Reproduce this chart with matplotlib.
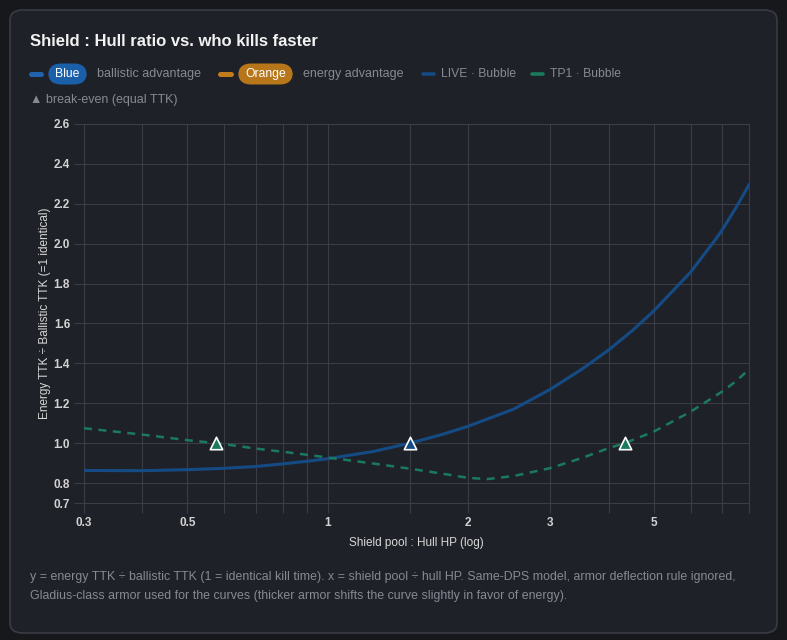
import matplotlib
matplotlib.use("Agg")
import matplotlib.pyplot as plt
from matplotlib.patches import FancyBboxPatch
from matplotlib.lines import Line2D

# ratio shield pool : hull HP
ratio = [0.3, 0.4, 0.5, 0.6, 0.7, 0.8, 0.9, 1.0, 1.25, 1.5, 1.75, 2.0, 2.5,
         3.0, 3.5, 4.0, 4.5, 5.0, 6.0, 6.8, 7.0, 7.5, 8.0]
live_bubble = [0.863, 0.862, 0.867, 0.874, 0.883, 0.896, 0.909, 0.922, 0.958,
               1.0, 1.042, 1.085, 1.17, 1.27, 1.37, 1.467, 1.565, 1.663,
               1.858, 2.025, 2.067, 2.18, 2.295]

ratio_tp1 = [0.3, 0.4, 0.5, 0.575, 0.6, 0.7, 0.8, 0.9, 1.0, 1.25, 1.5, 1.75,
             2.0, 2.2, 2.5, 3.0, 3.5, 4.0, 4.33, 5.0, 6.0, 7.0, 7.5, 8.0]
tp1_bubble = [1.075, 1.043, 1.015, 1.0, 0.995, 0.973, 0.957, 0.942, 0.928,
              0.898, 0.872, 0.848, 0.826, 0.82, 0.835, 0.875, 0.925, 0.975,
              1.0, 1.058, 1.158, 1.258, 1.31, 1.37]

breakeven_live = [1.5]
breakeven_tp1 = [0.575, 4.33]

x_grid = [0.3, 0.4, 0.5, 0.6, 0.7, 0.8, 0.9, 1, 1.5, 2, 3, 4, 5, 6, 7, 8]
x_labels = {0.3: "0.3", 0.5: "0.5", 1: "1", 2: "2", 3: "3", 5: "5"}
y_ticks = [0.7, 0.8, 1.0, 1.2, 1.4, 1.6, 1.8, 2.0, 2.2, 2.4, 2.6]

BG = "#17181c"
CARD = "#1f2128"
GRID = "#3a3d45"
BLUE_LINE = "#154b85"
GREEN_LINE = "#1b7a5e"
MUTED = "#868a93"

font = "Liberation Sans"

fig = plt.figure(figsize=(7.87, 6.4), dpi=100)
fig.patch.set_facecolor(BG)

W, H = 787.0, 640.0
def fx(px):
    return px / W
def fy(py):
    return 1 - py / H

card = FancyBboxPatch((fx(10), fy(633)), fx(767), 623 / H,
                      boxstyle="round,pad=0,rounding_size=0.016",
                      transform=fig.transFigure, facecolor=CARD,
                      edgecolor="#3a3c43", linewidth=1.2, zorder=-5)
fig.patches.append(card)

fig.text(fx(30), fy(41), "Shield : Hull ratio vs. who kills faster",
         fontsize=12, fontweight="bold", color="#f2f2f2", family=font,
         va="center", ha="left")

# legend row
ly = fy(74)
def seg(x0, x1, color, lw):
    fig.lines.append(Line2D([fx(x0), fx(x1)], [ly, ly], transform=fig.transFigure,
                            color=color, linewidth=lw, solid_capstyle="round"))

def pill(x0, x1, label, color):
    p = FancyBboxPatch((fx(x0), fy(84.5)), fx(x1 - x0), 21 / H,
                       boxstyle="round,pad=0,rounding_size=0.0164",
                       mutation_aspect=W / H,
                       transform=fig.transFigure, facecolor=color,
                       edgecolor="none", zorder=1)
    fig.patches.append(p)
    fig.text(fx((x0 + x1) / 2), ly, label, fontsize=8.7, color="white",
             family=font, ha="center", va="center", zorder=2)

seg(31, 41, "#1f62ad", 3.6)
pill(48, 87, "Blue", "#1b5fa9")
fig.text(fx(97), ly, "ballistic advantage", fontsize=9, color=MUTED, family=font,
         ha="left", va="center")
seg(220, 231, "#c27c1c", 3.6)
pill(238, 293, "Orange", "#b8761a")
fig.text(fx(303), ly, "energy advantage", fontsize=9, color=MUTED, family=font,
         ha="left", va="center")
seg(423, 434, BLUE_LINE, 2.6)
fig.text(fx(441), ly, "LIVE · Bubble", fontsize=8.7, color=MUTED, family=font,
         ha="left", va="center")
seg(532, 543, GREEN_LINE, 2.6)
fig.text(fx(550), ly, "TP1 · Bubble", fontsize=8.7, color=MUTED, family=font,
         ha="left", va="center")
fig.text(fx(30), fy(100), "▲ break-even (equal TTK)", fontsize=9, color=MUTED,
         family=[font, "DejaVu Sans"], ha="left", va="center")

ax = fig.add_axes([fx(84), fy(503), (749 - 84) / W, (503 - 124) / H])
ax.set_facecolor(CARD)
ax.set_xscale("log")
ax.set_xlim(0.3, 8)
ax.set_ylim(0.7, 2.6)

ax.plot(ratio, live_bubble, color=BLUE_LINE, linewidth=2.2, zorder=3)
ax.plot(ratio_tp1, tp1_bubble, color=GREEN_LINE, linewidth=1.8,
        linestyle=(0, (3.2, 2.6)), zorder=3)
ax.scatter(breakeven_live, [1.0] * len(breakeven_live), marker="^", s=80,
           facecolor=BLUE_LINE, edgecolor="white", linewidth=1.2, zorder=4)
ax.scatter(breakeven_tp1, [1.0] * len(breakeven_tp1), marker="^", s=80,
           facecolor=GREEN_LINE, edgecolor="white", linewidth=1.2, zorder=4)

ax.set_xticks(x_grid)
ax.set_xticklabels([x_labels.get(v, "") for v in x_grid])
ax.minorticks_off()
ax.set_yticks(y_ticks)
ax.set_yticklabels([f"{v:.1f}" for v in y_ticks])
ax.grid(True, color=GRID, linewidth=0.8)
ax.tick_params(colors=GRID, length=7, width=0.8, labelcolor="#d2d2d2",
               labelsize=8.5, pad=3)
for lab in ax.get_xticklabels() + ax.get_yticklabels():
    lab.set_fontweight("bold")
    lab.set_family(font)
for s in ax.spines.values():
    s.set_color(GRID)
    s.set_linewidth(0.8)

ax.set_xlabel("Shield pool : Hull HP (log)", fontsize=8.5, color="#d8d8d8",
              family=font, labelpad=6)
ax.set_ylabel("Energy TTK ÷ Ballistic TTK (=1 identical)", fontsize=8.5,
              color="#d8d8d8", family=[font, "DejaVu Sans"], labelpad=2)

fig.text(fx(30), fy(577),
         "y = energy TTK ÷ ballistic TTK (1 = identical kill time). x = shield pool ÷ hull HP. "
         "Same-DPS model, armor deflection rule ignored,",
         fontsize=8.95, color=MUTED, family=[font, "DejaVu Sans"], ha="left", va="center")
fig.text(fx(30), fy(596),
         "Gladius-class armor used for the curves (thicker armor shifts the curve slightly in favor of energy).",
         fontsize=8.95, color=MUTED, family=[font, "DejaVu Sans"], ha="left", va="center")

fig.savefig("out.png", dpi=100, facecolor=BG)
